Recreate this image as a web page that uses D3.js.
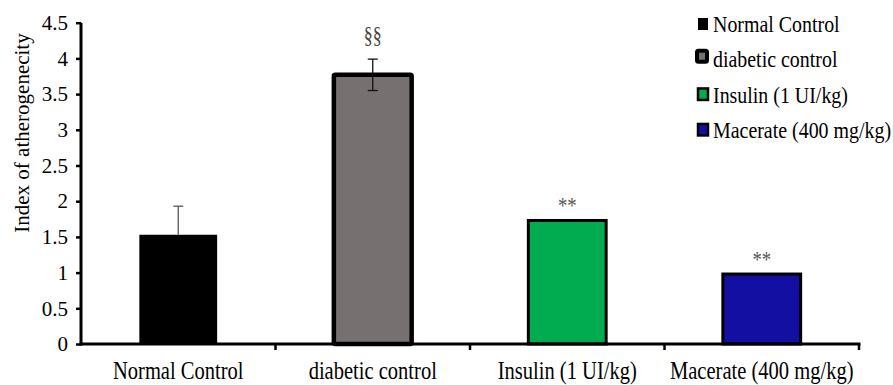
<!DOCTYPE html>
<html><head><meta charset="utf-8">
<script src="https://cdn.jsdelivr.net/npm/d3@7"></script>
<style>body{margin:0;background:#fff}svg{display:block}</style>
</head><body>
<script>
const categories = ["Normal Control","diabetic control","Insulin (1 UI/kg)","Macerate (400 mg/kg)"];
const values = [1.53, 3.77, 1.73, 0.98];
const errUp = [0.40, 0.22, 0, 0];
const errDown = [0, 0.22, 0, 0];
const marks = ["", "§§", "**", "**"];
const yTicks = [0,0.5,1,1.5,2,2.5,3,3.5,4,4.5];
const fills = ["#000000","#767170","#00AC4F","#140FA3"];
const strokeW = [0, 4.5, 3, 3];
const errColor = ["#555","#111","#000","#000"];

const FONT = "Times New Roman";
const W=893,H=385;
const svg=d3.select("body").append("svg").attr("width",W).attr("height",H);
const x=d3.scaleBand().domain(categories).range([81,859]).paddingInner(0).paddingOuter(0);
const y=d3.scaleLinear().domain([0,4.5]).range([344,22.7]);
const bw = x.bandwidth()*0.4;

function txt(g, px, py, s, size, sx, anchor, fill){
  return g.append("text").attr("transform",`translate(${px},${py}) scale(${sx},1)`)
    .attr("text-anchor",anchor||"start").attr("font-family",FONT).attr("font-size",size)
    .attr("fill",fill||"#000").text(s);
}

// bars
categories.forEach((c,i)=>{
  const cx = x(c)+x.bandwidth()/2;
  svg.append("rect").attr("x",cx-bw/2).attr("y",y(values[i])).attr("width",bw).attr("height",y(0)-y(values[i]))
    .attr("fill",fills[i]).attr("stroke",strokeW[i]?"#000":"none").attr("stroke-width",strokeW[i])
    .attr("rx",strokeW[i]>4?1.5:0);
  if(errUp[i]>0||errDown[i]>0){
    const top=y(values[i]+errUp[i]), bot=y(values[i]-errDown[i]);
    svg.append("line").attr("x1",cx).attr("x2",cx).attr("y1",top).attr("y2",bot).attr("stroke",errColor[i]).attr("stroke-width",1.3);
    svg.append("line").attr("x1",cx-5).attr("x2",cx+5).attr("y1",top).attr("y2",top).attr("stroke",errColor[i]).attr("stroke-width",1.3);
    if(errDown[i]>0) svg.append("line").attr("x1",cx-5).attr("x2",cx+5).attr("y1",bot).attr("y2",bot).attr("stroke",errColor[i]).attr("stroke-width",1.3);
  }
  if(marks[i]){
    const topv = values[i]+errUp[i];
    if(marks[i]==="§§") txt(svg, cx, y(topv)-16, marks[i], 24, 0.75, "middle", "#444");
    else txt(svg, cx, y(topv)-7, marks[i], 24, 0.78, "middle", "#555");
  }
});

// y axis
const ya=svg.append("g").attr("transform","translate(81,0)").call(d3.axisLeft(y).tickValues(yTicks).tickSize(5).tickPadding(8).tickFormat(d=>String(d)));
ya.attr("font-family",FONT);
ya.select(".domain").attr("stroke-width",3).attr("d","M0,22.7V345.5");
ya.selectAll(".tick line").attr("stroke-width",2.5);
ya.selectAll(".tick text").attr("font-family",FONT).attr("font-size",21).attr("fill","#000");

// x axis
const xa=svg.append("g").attr("transform","translate(0,344)");
xa.append("line").attr("x1",79.5).attr("x2",860.5).attr("y1",0).attr("y2",0).attr("stroke","#000").attr("stroke-width",3);
const bounds = categories.map(c=>x(c)).concat([x.range()[1]]);
bounds.slice(1).forEach(b=>{
  xa.append("line").attr("x1",b).attr("x2",b).attr("y1",0).attr("y2",6).attr("stroke","#000").attr("stroke-width",2.5);
});
categories.forEach(c=>{
  txt(xa, x(c)+x.bandwidth()/2, 35, c, 26, 0.79, "middle");
});

// y title
svg.append("text").attr("transform","translate(28.5,133) rotate(-90)").attr("text-anchor","middle")
  .attr("font-family",FONT).attr("font-size",21).attr("fill","#000").text("Index of atherogenecity");

// legend
const lg=svg.append("g");
const mk=[{x:698,w:10,h:12,sw:0},{x:697,w:10,h:11,sw:4},{x:698,w:10,h:11.5,sw:2.5},{x:698,w:10,h:11.5,sw:2.5}];
categories.forEach((c,i)=>{
  const base = 31.7 + i*35.5;
  const m=mk[i];
  const bottom = base - (i===0?1.7:(i===1?3.5:1.5)) - m.sw/2;
  lg.append("rect").attr("x",m.x).attr("y",bottom-m.h).attr("width",m.w).attr("height",m.h).attr("fill",fills[i])
    .attr("stroke",m.sw?"#000":"none").attr("stroke-width",m.sw).attr("rx",i===1?1.5:0);
  txt(lg, 713, base, c, 24, 0.83, "start");
});
</script>
</body></html>
